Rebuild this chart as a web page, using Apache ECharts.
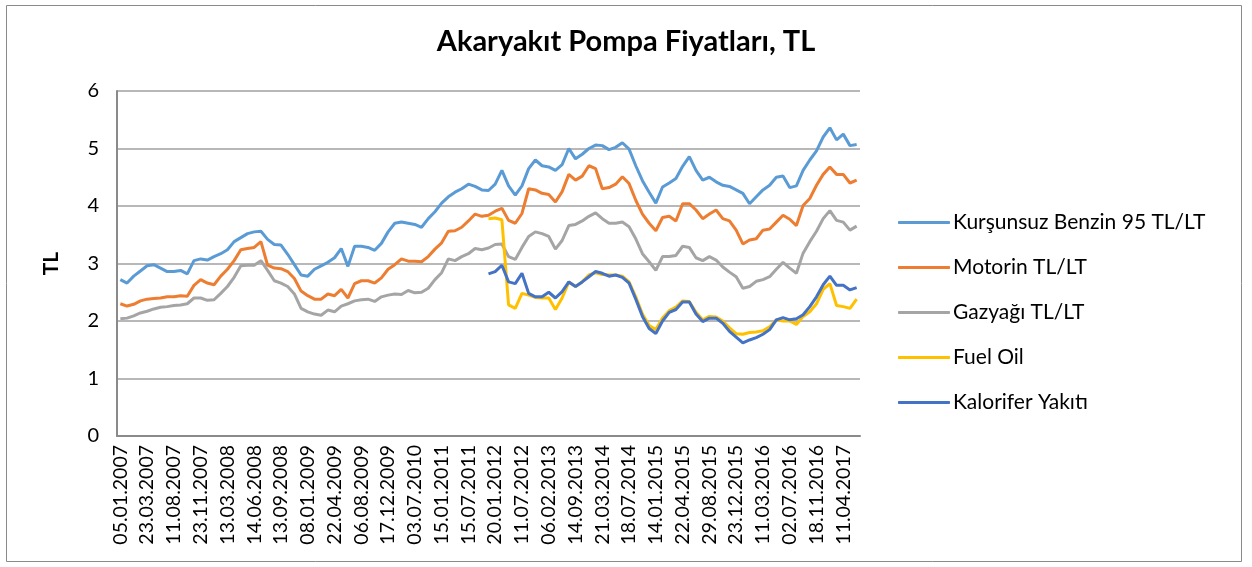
<!DOCTYPE html>
<html>
<head>
<meta charset="utf-8">
<script src="https://cdn.jsdelivr.net/npm/echarts@6/dist/echarts.min.js"></script>
<style>
  html, body { margin: 0; padding: 0; background: #fff; }
  #chart { width: 1252px; height: 567px; }
</style>
</head>
<body>
<div id="chart"></div>
<script>
// tick labels, one every 4 points
const tickDates = ['05.01.2007', '23.03.2007', '11.08.2007', '23.11.2007', '13.03.2008', '14.06.2008',
  '13.09.2008', '08.01.2009', '22.04.2009', '06.08.2009', '17.12.2009', '03.07.2010', '15.01.2011',
  '15.07.2011', '20.01.2012', '11.07.2012', '06.02.2013', '14.09.2013', '21.03.2014', '18.07.2014',
  '14.01.2015', '22.04.2015', '29.08.2015', '23.12.2015', '11.03.2016', '02.07.2016', '18.11.2016',
  '11.04.2017'];
const LABEL_STEP = 4;

const benzin = [2.72, 2.66, 2.78, 2.87, 2.96, 2.98, 2.92, 2.86, 2.86, 2.88, 2.82, 3.05, 3.08, 3.06, 3.12, 3.17,
  3.24, 3.38, 3.45, 3.52, 3.55, 3.56, 3.42, 3.33, 3.32, 3.16, 2.98, 2.80, 2.78, 2.90, 2.96, 3.02, 3.10, 3.26,
  2.95, 3.30, 3.30, 3.28, 3.23, 3.35, 3.55, 3.70, 3.72, 3.70, 3.68, 3.63, 3.78, 3.90, 4.05, 4.16, 4.24, 4.30,
  4.38, 4.34, 4.28, 4.27, 4.38, 4.62, 4.35, 4.19, 4.35, 4.65, 4.80, 4.70, 4.68, 4.62, 4.72, 5.00, 4.82, 4.90,
  5.00, 5.06, 5.05, 4.98, 5.02, 5.10, 4.99, 4.70, 4.44, 4.24, 4.05, 4.33, 4.40, 4.48, 4.69, 4.86, 4.62, 4.45,
  4.50, 4.42, 4.36, 4.34, 4.28, 4.22, 4.04, 4.16, 4.28, 4.36, 4.50, 4.52, 4.32, 4.35, 4.62, 4.80, 4.96, 5.20,
  5.36, 5.15, 5.25, 5.05, 5.07];

const motorin = [2.30, 2.26, 2.29, 2.35, 2.38, 2.39, 2.40, 2.42, 2.42, 2.44, 2.43, 2.62, 2.72, 2.66, 2.63, 2.78,
  2.90, 3.05, 3.24, 3.26, 3.28, 3.38, 2.97, 2.92, 2.91, 2.86, 2.74, 2.52, 2.44, 2.38, 2.38, 2.47, 2.44, 2.55,
  2.40, 2.65, 2.70, 2.70, 2.66, 2.75, 2.90, 2.98, 3.08, 3.04, 3.04, 3.03, 3.12, 3.25, 3.36, 3.56, 3.57, 3.63,
  3.74, 3.86, 3.82, 3.84, 3.91, 3.96, 3.75, 3.70, 3.87, 4.30, 4.28, 4.22, 4.20, 4.07, 4.25, 4.55, 4.45, 4.52,
  4.70, 4.65, 4.30, 4.32, 4.38, 4.51, 4.39, 4.10, 3.86, 3.70, 3.57, 3.80, 3.82, 3.74, 4.04, 4.04, 3.93, 3.78,
  3.86, 3.93, 3.78, 3.74, 3.58, 3.34, 3.41, 3.43, 3.58, 3.60, 3.72, 3.84, 3.77, 3.66, 4.01, 4.13, 4.36, 4.55,
  4.68, 4.55, 4.55, 4.40, 4.45];

const gazyagi = [2.04, 2.05, 2.09, 2.14, 2.17, 2.21, 2.24, 2.25, 2.27, 2.28, 2.30, 2.40, 2.40, 2.36, 2.37, 2.48,
  2.60, 2.76, 2.96, 2.97, 2.97, 3.05, 2.88, 2.70, 2.66, 2.60, 2.47, 2.22, 2.16, 2.12, 2.10, 2.19, 2.16, 2.26,
  2.30, 2.35, 2.37, 2.38, 2.34, 2.42, 2.45, 2.47, 2.46, 2.53, 2.49, 2.50, 2.57, 2.72, 2.84, 3.08, 3.05, 3.12,
  3.17, 3.26, 3.24, 3.27, 3.33, 3.34, 3.12, 3.07, 3.28, 3.47, 3.55, 3.52, 3.47, 3.25, 3.40, 3.66, 3.68, 3.74,
  3.82, 3.88, 3.78, 3.70, 3.70, 3.72, 3.64, 3.43, 3.17, 3.03, 2.88, 3.12, 3.12, 3.14, 3.30, 3.28, 3.10, 3.05,
  3.12, 3.06, 2.94, 2.85, 2.77, 2.57, 2.60, 2.69, 2.72, 2.77, 2.90, 3.02, 2.92, 2.83, 3.18, 3.38, 3.56, 3.78,
  3.92, 3.75, 3.72, 3.58, 3.65];

// fuel oil and kalorifer start later (point 55)
const LATE_START = 55;
const fuelOil = [3.78, 3.79, 3.76, 2.28, 2.22, 2.48, 2.45, 2.41, 2.40, 2.40, 2.20, 2.40, 2.68, 2.60, 2.68, 2.80,
  2.84, 2.81, 2.80, 2.80, 2.78, 2.68, 2.42, 2.12, 1.92, 1.85, 2.05, 2.18, 2.24, 2.35, 2.34, 2.15, 2.02, 2.08,
  2.07, 2.00, 1.88, 1.78, 1.77, 1.80, 1.81, 1.83, 1.90, 2.02, 2.00, 2.00, 1.94, 2.08, 2.16, 2.30, 2.55, 2.65,
  2.27, 2.25, 2.22, 2.38];

const kalorifer = [2.82, 2.86, 2.97, 2.68, 2.65, 2.83, 2.48, 2.42, 2.42, 2.50, 2.40, 2.51, 2.68, 2.60, 2.68, 2.77,
  2.86, 2.83, 2.78, 2.80, 2.76, 2.66, 2.38, 2.08, 1.87, 1.78, 2.00, 2.15, 2.20, 2.33, 2.33, 2.12, 1.99, 2.05,
  2.05, 1.96, 1.82, 1.72, 1.62, 1.67, 1.71, 1.77, 1.85, 2.02, 2.06, 2.02, 2.04, 2.11, 2.25, 2.42, 2.63, 2.78,
  2.62, 2.62, 2.54, 2.58];

const names = ['Kurşunsuz Benzin 95 TL/LT', 'Motorin TL/LT', 'Gazyağı TL/LT', 'Fuel Oil', 'Kalorifer Yakıtı'];
const colors = ['#5B9BD5', '#ED7D31', '#A5A5A5', '#FFC000', '#4472C4'];

const categories = benzin.map((v, i) => (i % LABEL_STEP === 0 ? tickDates[i / LABEL_STEP] : ''));
const pad = new Array(LATE_START).fill(null);
const seriesData = [benzin, motorin, gazyagi, pad.concat(fuelOil), pad.concat(kalorifer)];

const FONT = 'Lato';
const chart = echarts.init(document.getElementById('chart'));
chart.setOption({
  animation: false,
  color: colors,
  textStyle: { fontFamily: FONT },
  title: {
    text: 'Akaryakıt Pompa Fiyatları, TL',
    left: 'center',
    top: 22,
    textStyle: { fontSize: 29, fontWeight: 'bold', color: '#000', fontFamily: FONT }
  },
  graphic: [{
    type: 'rect',
    shape: { x: 6.5, y: 5.5, width: 1235, height: 556 },
    style: { fill: 'none', stroke: '#8a8a8a', lineWidth: 1 },
    silent: true
  }],
  legend: {
    orient: 'vertical',
    left: 898,
    top: 212,
    padding: 0,
    itemWidth: 52,
    itemHeight: 3,
    itemGap: 24,
    icon: 'roundRect',
    data: names.map((n, i) => ({ name: n, itemStyle: { color: colors[i] } })),
    textStyle: { fontSize: 21, color: '#000', fontFamily: FONT, padding: [0, 0, 0, -2] }
  },
  grid: { left: 117, right: 392, top: 91, bottom: 131 },
  xAxis: {
    type: 'category',
    data: categories,
    boundaryGap: true,
    axisLine: { lineStyle: { color: '#8a8a8a', width: 2 } },
    axisTick: { show: false },
    axisLabel: { interval: LABEL_STEP - 1, rotate: 90, fontSize: 19.5, color: '#000', margin: 9, fontFamily: FONT }
  },
  yAxis: {
    type: 'value',
    min: 0,
    max: 6,
    interval: 1,
    name: 'TL',
    nameLocation: 'middle',
    nameGap: 55,
    nameTextStyle: { fontSize: 21, fontWeight: 'bold', color: '#000', fontFamily: FONT },
    axisLine: { show: true, lineStyle: { color: '#8a8a8a', width: 2 } },
    axisTick: { show: false },
    axisLabel: { fontSize: 20, color: '#000', margin: 18, fontFamily: FONT },
    splitLine: { lineStyle: { color: '#a0a0a0', width: 1.5 } }
  },
  series: seriesData.map((d, i) => ({
    name: names[i],
    type: 'line',
    data: d,
    symbol: 'none',
    connectNulls: false,
    lineStyle: { width: 3, color: colors[i] },
    itemStyle: { color: colors[i] }
  }))
});
</script>
</body>
</html>
